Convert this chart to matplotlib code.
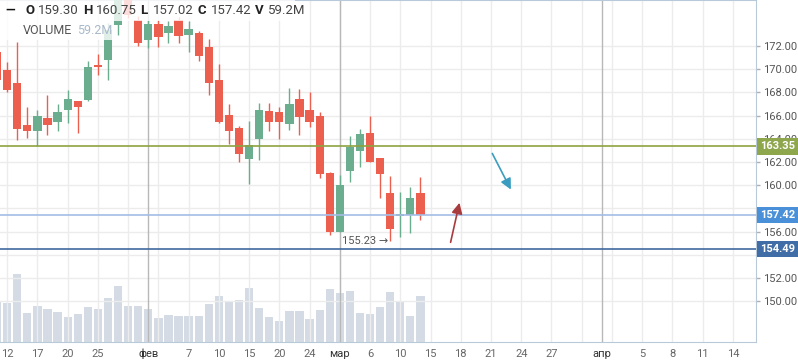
import numpy as np
import pandas as pd
import matplotlib
matplotlib.use("Agg")
import matplotlib.pyplot as plt
from matplotlib.patches import Rectangle
from matplotlib.transforms import blended_transform_factory

plt.rcParams['font.family'] = ['Roboto', 'DejaVu Sans']

# Séances (MOEX, 2023)
dates = ["2023-01-11", "2023-01-12", "2023-01-13", "2023-01-16", "2023-01-17", "2023-01-18",
         "2023-01-19", "2023-01-20", "2023-01-23", "2023-01-24", "2023-01-25", "2023-01-26",
         "2023-01-27", "2023-01-30", "2023-01-31", "2023-02-01", "2023-02-02", "2023-02-03",
         "2023-02-06", "2023-02-07", "2023-02-08", "2023-02-09", "2023-02-10", "2023-02-13",
         "2023-02-14", "2023-02-15", "2023-02-16", "2023-02-17", "2023-02-20", "2023-02-21",
         "2023-02-22", "2023-02-24", "2023-02-27", "2023-02-28", "2023-03-01", "2023-03-02",
         "2023-03-03", "2023-03-06", "2023-03-07", "2023-03-09", "2023-03-10", "2023-03-13",
         "2023-03-14"]
opens = [171.48, 169.93, 168.81, 165.19, 164.67, 165.79, 165.45, 166.48, 167.26, 167.34,
         170.36, 170.79, 173.81, 177.00, 174.24, 172.52, 173.90, 173.12, 174.24, 172.95,
         173.12, 171.91, 169.07, 166.05, 164.93, 162.26, 163.98, 166.40, 166.31, 165.28,
         167.43, 166.48, 165.97, 161.05, 155.97, 161.22, 162.95, 164.50, 162.34, 159.33,
         157.34, 157.43, 159.30]
highs = [172.00, 170.62, 172.34, 166.74, 166.48, 167.78, 167.00, 168.21, 167.30, 170.71,
         171.31, 174.00, 177.00, 177.50, 174.60, 174.24, 174.24, 174.16, 174.50, 174.16,
         173.30, 172.60, 170.45, 167.00, 165.10, 165.53, 167.09, 167.09, 166.74, 168.38,
         168.29, 168.03, 166.31, 161.14, 160.88, 164.24, 164.84, 165.97, 162.34, 160.79,
         159.41, 159.84, 160.75]
lows = [168.80, 168.03, 163.90, 164.07, 163.38, 164.33, 164.67, 165.36, 164.50, 167.26,
        169.50, 169.07, 172.95, 174.41, 172.00, 171.83, 171.91, 172.26, 172.26, 171.48,
        170.71, 167.78, 165.36, 163.55, 162.00, 160.10, 162.17, 164.67, 163.98, 164.76,
        164.33, 165.02, 160.62, 155.71, 155.97, 160.28, 161.57, 162.00, 158.90, 155.23,
        155.53, 155.88, 157.02]
closes = [169.07, 168.21, 164.84, 164.67, 165.97, 165.19, 166.31, 167.43, 166.74, 170.19,
          170.19, 173.38, 176.50, 174.67, 172.26, 173.90, 172.78, 173.72, 172.86, 173.47,
          171.14, 168.81, 165.45, 164.67, 162.69, 163.47, 166.48, 165.45, 165.45, 167.00,
          165.88, 165.45, 160.97, 155.97, 160.02, 163.29, 164.41, 162.00, 160.97, 156.22,
          157.52, 158.90, 157.42]
volumes = [52.8, 50.2, 87.5, 37.3, 46.3, 42.5, 38.6, 32.2, 36.0, 45.0, 42.5, 56.6, 72.1,
           46.3, 46.3, 42.5, 30.9, 34.7, 33.5, 33.5, 33.5, 48.9, 59.2, 52.8, 54.1, 69.5,
           43.8, 32.2, 27.0, 39.9, 39.9, 29.6, 41.2, 68.2, 63.1, 65.6, 37.3, 36.0, 45.0,
           64.4, 51.5, 33.5, 59.2]  # millions

# Niveaux horizontaux tracés
levels = [163.35, 157.42, 154.49]
level_line_colors = ['#8da33f', '#a3bce6', '#3f699e']
level_box_colors = ['#8ea64c', '#4a90d9', '#406da5']

# Flèches dessinées (slot, prix) : départ -> pointe
arrows = [((44.93, 154.84), (45.93, 158.72), '#a83b3d'),
          ((49.0, 162.95), (51.1, 159.41), '#3a9dbf')]

# 158 et 154 sont entièrement cachés par les étiquettes des niveaux
price_ticks = [150, 152, 156, 160, 162, 164, 166, 168, 170, 172]
grid_prices = np.arange(150, 173, 2)
months_ru = {1: 'янв', 2: 'фев', 3: 'мар', 4: 'апр'}

# Axe temporel : séances puis jours calendaires dans le futur
trade_dates = pd.to_datetime(dates)
future = pd.date_range(trade_dates[-1] + pd.Timedelta(days=1), periods=40)
all_dates = list(trade_dates) + list(future)
n = len(dates)
xs = np.arange(n)

fig = plt.figure(figsize=(7.98, 3.63), dpi=100)
W, H = 756, 342
ax = fig.add_axes([0, 21 / 363, W / 798, H / 363])
axv = ax.twinx()
ax.set_zorder(axv.get_zorder() + 1)
ax.patch.set_visible(False)

x_left, x_right = 0.288, 75.29
ax.set_xlim(x_left, x_right)
ax.set_ylim(146.48, 175.97)

# Volume
axv.bar(xs, volumes, width=0.82, color='#c6d0db', alpha=0.75, zorder=1)
axv.set_ylim(0, 440)
axv.set_yticks([])
for s in axv.spines.values():
    s.set_visible(False)

# Grille
month_slots = [i for i in range(1, len(all_dates)) if all_dates[i].month != all_dates[i - 1].month]
grid_slots = list(range(1, 76, 3))
for s in grid_slots:
    ax.axvline(s, color='#ececec', lw=1, zorder=0)
for s in month_slots:
    ax.axvline(s, color='#b8b8b8', lw=1, zorder=0.5)
for p in grid_prices:
    ax.axhline(p, color='#ececec', lw=1, zorder=0)

# Bougies
up = np.array(closes) >= np.array(opens)
colors = np.where(up, '#6aae8f', '#ec5f4f')
ax.vlines(xs, lows, highs, colors=colors, lw=1, zorder=3)
bottoms = np.minimum(opens, closes)
heights = np.maximum(np.abs(np.array(closes) - np.array(opens)), 0.15)
ax.bar(xs, heights, bottom=bottoms, width=0.82, color=colors, zorder=4)

# Niveaux
ytrans = blended_transform_factory(ax.transAxes, ax.transData)
for lv, lc, bc in zip(levels, level_line_colors, level_box_colors):
    ax.axhline(lv, color=lc, lw=1.2, zorder=5)
    ax.text(1.0 + 4 / W, lv, f"{lv:.2f}", transform=ytrans, ha='left', va='center',
            fontsize=8, color='white', fontweight='bold', clip_on=False, zorder=10,
            bbox=dict(boxstyle='square,pad=0.3', fc=bc, ec='none'))

# Flèches
for (x0, y0), (x1, y1), c in arrows:
    ax.annotate('', xy=(x1, y1), xytext=(x0, y0),
                arrowprops=dict(arrowstyle='-|>', color=c, lw=1.2, mutation_scale=16),
                zorder=6)

# Plus bas visible
imin = int(np.argmin(lows))
ax.annotate(f"{lows[imin]:.2f} →", xy=(imin - 0.2, lows[imin]), ha='right', va='center',
            fontsize=8, color='#555555', zorder=6)

# Axe des prix à droite
ax.yaxis.tick_right()
ax.set_yticks(price_ticks)
ax.set_yticklabels([f"{p:.2f}" for p in price_ticks])
ax.tick_params(axis='y', length=3, width=1, color='#b0b0b0', labelsize=8,
               labelcolor='#555555', pad=2)

# Axe du temps
labels = []
label_cols = []
ticks = sorted(set(grid_slots) | set(month_slots))
for s in ticks:
    d = all_dates[s]
    if s in month_slots:
        labels.append(months_ru[d.month])
        label_cols.append('#333333')
    elif min(abs(s - m) for m in month_slots) < 3:
        labels.append('')
        label_cols.append('#666666')
    else:
        labels.append(str(d.day))
        label_cols.append('#666666')
ax.set_xticks(ticks)
ax.set_xticklabels(labels)
for t, c in zip(ax.get_xticklabels(), label_cols):
    t.set_color(c)
ax.tick_params(axis='x', length=0, labelsize=8, pad=5)

for name, s in ax.spines.items():
    s.set_color('#b8c9d9')
ax.spines['left'].set_visible(False)

# Légende en haut à gauche
def px(x, y):
    return x / W, 1 - y / H

ax.add_patch(Rectangle(px(0, 21), 295 / W, 21 / H, transform=ax.transAxes,
                       fc='white', alpha=0.8, ec='none', zorder=8))
ax.add_patch(Rectangle(px(0, 40), 113 / W, 19 / H, transform=ax.transAxes,
                       fc='white', alpha=0.8, ec='none', zorder=8))
ax.text(*px(5, 10), "—", transform=ax.transAxes, fontsize=9, fontweight='bold',
        color='#111111', va='center', zorder=9)
vol_txt = f"{volumes[-1]:.1f}M"
row = [("O", 25, True), (f"{opens[-1]:.2f}", 38, False), ("H", 83, True),
       (f"{highs[-1]:.2f}", 96, False), ("L", 140, True), (f"{lows[-1]:.2f}", 153, False),
       ("C", 198, True), (f"{closes[-1]:.2f}", 211, False), ("V", 255, True),
       (vol_txt, 268, False)]
for txt, x, bold in row:
    ax.text(*px(x, 10), txt, transform=ax.transAxes, fontsize=9.5,
            fontweight='bold' if bold else 'normal',
            color='#222222' if bold else '#444444', va='center', zorder=9)
ax.text(*px(23, 31), "VOLUME", transform=ax.transAxes, fontsize=9, color='#555555',
        va='center', zorder=9)
ax.text(*px(77, 31), vol_txt, transform=ax.transAxes, fontsize=9, color='#a9b9c9',
        va='center', zorder=9)

fig.savefig("out.png", dpi=100)
